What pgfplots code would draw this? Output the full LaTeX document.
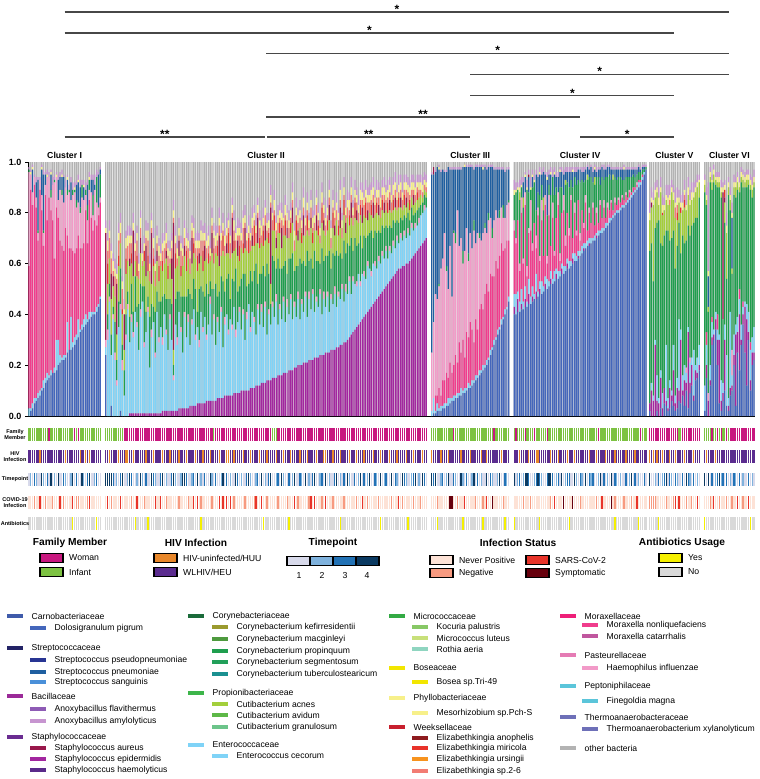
\documentclass[border=0pt]{standalone}
\usepackage{fontspec}
\setmainfont{Liberation Sans}
\usepackage{pgfplots}
\usepackage{pgfplotstable}
\pgfplotsset{compat=1.18}

% taxa shown in the bars
\definecolor{cDol}{HTML}{4466BB}
\definecolor{cSep}{HTML}{A2269F}
\definecolor{cEnt}{HTML}{7FD3F7}
\definecolor{cMor}{HTML}{F03C8C}
\definecolor{cHae}{HTML}{F29AC8}
\definecolor{cCor}{HTML}{1F9E4E}
\definecolor{cCut}{HTML}{A3CF3B}
\definecolor{cSpn}{HTML}{1F5FA0}
\definecolor{cSau}{HTML}{99184B}
\definecolor{cEmi}{HTML}{E8332A}
\definecolor{cEsp}{HTML}{F27C73}
\definecolor{cMes}{HTML}{F7F08A}
\definecolor{cAam}{HTML}{C795D0}
\definecolor{cOth}{HTML}{B3B3B3}
% extra legend colours
\definecolor{cCarn}{HTML}{3F5BAA}
\definecolor{cStrF}{HTML}{232366}
\definecolor{cSps}{HTML}{283593}
\definecolor{cSsa}{HTML}{4A90D9}
\definecolor{cBacF}{HTML}{9B2A98}
\definecolor{cAfl}{HTML}{8E5BB5}
\definecolor{cStaF}{HTML}{6A2C91}
\definecolor{cSha}{HTML}{5A2A8A}
\definecolor{cCorF}{HTML}{1B6B3A}
\definecolor{cCke}{HTML}{9A9A2E}
\definecolor{cCma}{HTML}{4E9A3E}
\definecolor{cCse}{HTML}{22A05A}
\definecolor{cCtu}{HTML}{1A9090}
\definecolor{cProF}{HTML}{3DB54A}
\definecolor{cCav}{HTML}{5DB847}
\definecolor{cCgr}{HTML}{6CC48A}
\definecolor{cMicF}{HTML}{33AA44}
\definecolor{cKpa}{HTML}{88C866}
\definecolor{cMlu}{HTML}{C8E07A}
\definecolor{cRae}{HTML}{8FD5C0}
\definecolor{cBos}{HTML}{F2E600}
\definecolor{cWeeF}{HTML}{C8202E}
\definecolor{cEan}{HTML}{8E1B1F}
\definecolor{cEur}{HTML}{F7931E}
\definecolor{cMorF}{HTML}{EE1F78}
\definecolor{cMca}{HTML}{C0569E}
\definecolor{cPasF}{HTML}{E57BB4}
\definecolor{cPep}{HTML}{5BC5DA}
\definecolor{cThe}{HTML}{6E70B8}
% metadata strips
\definecolor{cWom}{HTML}{C8187F}
\definecolor{cInf}{HTML}{7DC242}
\definecolor{cHun}{HTML}{E8872A}
\definecolor{cHiv}{HTML}{5B2C8F}
\definecolor{cT1}{HTML}{D8DAEB}
\definecolor{cT2}{HTML}{7FB2DD}
\definecolor{cT3}{HTML}{2272B5}
\definecolor{cT4}{HTML}{0B3A62}
\definecolor{cCnv}{HTML}{FDE2D6}
\definecolor{cCng}{HTML}{F79A80}
\definecolor{cCsa}{HTML}{E8342A}
\definecolor{cCsy}{HTML}{67000D}
\definecolor{cAby}{HTML}{F5F000}
\definecolor{cAbn}{HTML}{D9D9D9}

% one row per sample (gap rows between clusters have T=0)
% D S E M H C A P R L F Y V = relative abundance in percent
\pgfplotstableread{
D S E M H C A P R L F Y V T fm hv tp cv ab
0 0 3 56 37 1 0 0 0 0 0 0 1 100 i h a n n
2 0 1 86 6 0 0 0 0 0 0 1 1 100 i h b n n
3 0 2 78 5 0 0 9 0 0 0 1 1 100 i h a n n
5 0 2 84 3 0 0 0 0 0 0 0 1 100 i h c g n
6 0 1 75 4 0 0 6 0 0 0 0 2 100 i h b n n
7 0 2 60 3 1 0 20 0 0 0 0 1 100 i h a n n
8 0 2 79 4 0 0 0 0 0 0 0 1 100 i u a s n
10 0 1 70 6 0 0 10 0 0 0 1 1 100 i h d n n
11 0 3 53 5 1 0 22 0 0 0 0 2 100 i h b n n
13 0 2 72 4 0 0 4 0 0 0 0 1 100 i h a g n
14 0 3 60 17 0 0 0 0 0 0 1 2 100 i h c n n
15 0 1 70 8 0 0 0 0 0 0 0 2 100 w h a n n
16 0 2 63 5 3 0 6 0 0 0 1 1 100 i h d n n
17 0 0 60 14 0 0 0 0 0 0 0 3 100 i h a g n
17 0 2 43 30 1 0 0 0 0 0 0 2 100 i h b n n
18 0 12 52 12 0 0 0 0 0 0 1 1 100 i h a n n
20 0 10 48 7 0 0 8 0 0 0 0 2 100 i h d n n
21 0 3 45 20 0 0 5 0 0 0 0 2 100 i h a s n
22 0 1 44 20 2 0 5 0 0 0 1 2 100 i h a n n
22 0 2 41 19 0 0 10 0 0 0 0 1 100 i h c g n
23 0 1 50 16 0 0 0 0 0 0 0 3 100 i u b n n
25 0 12 34 16 2 0 4 0 0 0 1 1 100 i h a n n
26 0 0 40 22 1 0 0 0 0 0 0 2 100 i h a n n
26 0 13 27 19 0 0 7 0 0 0 0 2 100 i h b n n
27 0 2 36 22 2 0 0 0 0 0 0 3 100 i h d s y
28 0 3 33 24 1 0 0 0 0 0 1 2 100 w h a n n
30 0 2 34 16 3 0 6 0 0 0 0 2 100 i h c g n
31 0 7 33 13 0 0 8 0 0 0 1 2 100 w h a g n
33 0 1 32 14 2 0 8 0 0 0 0 3 100 i u a n n
34 0 2 30 20 5 0 0 0 0 0 0 2 100 i h d n n
35 0 3 30 17 0 0 5 0 0 0 1 2 100 i h b n n
36 0 4 41 6 2 0 0 0 0 0 0 3 100 i u a n n
37 0 1 30 9 6 0 8 0 0 0 0 2 100 i h c g n
38 0 3 44 4 4 0 0 0 0 0 1 2 100 i u d s n
39 0 2 37 10 0 0 5 0 0 0 0 2 100 i h a n n
40 0 1 32 6 8 0 6 0 0 0 0 2 100 i h a n n
40 0 1 36 12 0 0 2 0 0 0 0 4 100 i h b n n
41 0 2 32 9 10 0 0 0 0 0 0 3 100 i h c n y
43 0 1 35 3 1 0 12 0 0 0 0 1 100 i h a n n
46 0 1 37 2 9 0 2 0 0 0 0 1 100 i h a n n
0 0 0 0 0 0 0 0 0 0 0 0 0 0 z z z z z
0 0 0 0 0 0 0 0 0 0 0 0 0 0 z z z z z
24 0 3 0 3 0 0 0 42 0 0 2 3 100 i h d n n
0 0 30 0 4 6 12 0 0 8 5 4 3 100 i h d s n
0 0 45 0 2 5 10 0 0 0 8 3 4 100 i u d n n
4 0 20 0 0 8 14 0 10 0 6 3 3 100 i h d g n
0 0 38 0 2 3 8 0 4 0 2 4 3 100 i h c n n
0 0 22 0 3 12 10 0 0 0 8 3 4 100 i h a n n
0 0 12 0 2 8 10 0 20 0 2 2 4 100 i h b n n
0 0 35 0 0 10 14 0 0 4 6 3 4 100 i u a n n
2 0 40 0 2 14 10 0 0 0 4 4 4 100 i h c s n
0 0 18 0 4 6 12 0 0 2 8 3 2 100 i h d n n
0 0 8 0 0 10 8 0 14 0 0 2 4 100 w h a n n
0 0 30 0 2 8 16 0 0 6 4 4 3 100 w u a n n
0 0 42 0 2 5 12 0 0 0 6 4 4 100 w u b n n
0 1 28 0 0 10 20 0 3 0 6 3 4 100 w h d n n
0 1 36 0 3 12 8 0 0 4 4 3 3 100 w h c g n
0 1 30 0 2 8 14 0 18 0 0 3 4 100 w u a n n
0 1 40 0 0 14 6 0 0 0 4 3 4 100 w h a n y
0 1 34 0 2 6 12 0 0 8 6 3 3 100 w h b s n
0 1 25 0 0 18 10 0 0 0 3 3 4 100 w h a n n
0 1 38 0 3 10 12 0 6 0 4 4 3 100 w h d n n
0 1 44 0 0 6 8 0 0 0 2 3 4 100 w h b n n
0 1 26 0 2 22 10 0 0 4 0 3 3 100 w h a g n
0 1 32 0 0 8 14 0 12 0 3 3 4 100 w u c n n
0 1 40 0 2 4 10 0 0 6 6 4 3 100 w h a n y
0 1 18 0 0 20 14 0 0 0 4 3 4 100 w h a n n
0 1 30 0 3 10 8 0 20 0 2 3 3 100 w h d n n
0 1 36 0 0 6 16 0 0 3 4 4 4 100 w u c n n
0 1 22 0 2 16 10 0 0 0 6 3 3 100 w h b s n
0 1 40 0 0 8 12 0 4 0 3 3 4 100 w h a n n
0 1 28 0 2 14 8 0 0 6 4 4 3 100 w h a n n
0 1 34 0 0 10 14 0 0 0 2 3 4 100 w h c s n
0 2 26 0 3 16 10 0 0 4 4 3 4 100 w u d n n
0 2 38 0 0 8 12 0 0 0 6 3 3 100 w h a n n
0 2 30 0 2 12 16 0 3 0 3 4 4 100 w h b g n
0 2 24 0 0 20 8 0 0 5 4 3 3 100 w h a n n
0 2 36 0 2 6 14 0 0 0 2 3 4 100 w u a n n
0 2 28 0 0 14 10 0 8 0 4 3 3 100 w h c n n
0 2 12 0 2 4 6 0 50 0 2 3 4 100 w h d n n
0 2 34 0 0 10 12 0 0 6 4 3 4 100 w h b n n
0 2 26 0 3 18 10 0 0 0 3 4 3 100 w h a n n
0 3 38 0 0 8 14 0 6 0 2 3 4 100 w u a g n
0 3 30 0 2 12 8 0 0 4 6 3 3 100 w h b n n
0 3 22 0 0 22 12 0 0 0 4 3 4 100 w h d n n
0 3 36 0 2 6 16 0 4 0 3 4 3 100 w h d n n
0 3 28 0 0 16 10 0 0 8 2 3 4 100 w u c n n
0 3 34 0 3 10 12 0 0 0 4 3 3 100 w h a g n
0 4 24 0 0 20 8 0 0 0 6 3 4 100 w h a n n
0 4 32 0 2 8 14 0 10 0 3 3 3 100 w h b n n
0 4 38 0 0 12 10 0 0 4 2 4 4 100 w h c s n
0 4 26 0 2 18 12 0 0 0 4 3 3 100 w u a n n
0 5 30 0 0 6 16 0 0 6 3 3 4 100 w h d s n
0 5 22 0 3 20 10 0 4 0 2 3 3 100 w h a n n
0 5 36 0 0 10 12 0 0 0 6 4 4 100 w h b g y
0 5 28 0 2 14 8 0 0 8 4 3 3 100 w u a n n
0 5 34 0 0 8 14 0 6 0 2 3 4 100 w h c n n
0 6 24 0 2 20 10 0 0 0 4 3 3 100 w h a n n
0 6 30 0 0 12 12 0 0 4 3 4 4 100 w h a n n
0 6 38 0 3 6 8 0 0 0 2 3 3 100 w u d n n
0 6 26 0 0 18 14 0 8 0 3 3 4 100 w h b g n
0 6 32 0 2 10 10 0 0 6 4 3 3 100 i h a n n
0 6 22 0 0 24 12 0 0 0 3 4 4 100 w h c n n
0 7 30 0 2 8 16 0 0 4 2 3 3 100 w h a n n
0 7 26 0 0 16 10 0 12 0 4 3 4 100 w u a s n
0 7 34 0 2 12 8 0 0 0 6 3 3 100 w h b n n
0 7 20 0 0 26 12 0 0 6 2 3 4 100 w h d s n
0 8 28 0 3 10 14 0 0 0 4 4 3 100 w h a n n
0 8 32 0 0 14 10 0 4 0 3 3 4 100 w u c s n
0 8 24 0 2 22 8 0 0 8 2 3 3 100 w u a n n
0 8 30 0 0 8 16 0 0 0 6 3 4 100 w h b s n
0 8 26 0 2 18 10 0 14 0 2 3 3 100 w h a n n
0 9 34 0 0 10 12 0 0 4 4 4 4 100 w u a g n
0 9 22 0 3 24 8 0 0 0 3 3 3 100 w h d n n
0 9 28 0 0 12 14 0 6 0 2 3 4 100 w h c n n
0 9 32 0 2 8 10 0 0 6 4 3 3 100 w h a n n
0 10 24 0 0 20 12 0 0 0 3 3 4 100 w h b n n
0 10 30 0 2 14 8 0 0 4 6 4 3 100 w u a n n
0 10 20 0 0 26 10 0 8 0 2 3 4 100 w h a g n
0 10 28 0 3 10 14 0 0 0 4 3 3 100 w h c n n
0 10 34 0 0 8 12 0 0 6 2 3 4 100 w h d n n
0 11 22 0 2 22 8 0 0 0 4 3 3 100 w u b n n
0 11 30 0 0 12 14 0 4 0 3 4 4 100 w h a n n
0 11 26 0 2 18 10 0 0 8 2 3 3 100 w h a g n
0 12 20 0 0 28 8 0 0 0 4 3 4 100 w h b s n
0 12 30 0 2 8 16 0 10 0 2 3 3 100 w h c n n
0 12 24 0 0 20 10 0 0 4 4 3 4 100 w u a n n
0 13 28 0 3 12 12 0 0 0 3 4 3 100 w h d s n
0 13 22 0 0 24 8 0 0 6 2 3 4 100 w h a n y
0 13 30 0 2 10 14 0 6 0 4 3 3 100 w h b n n
0 14 18 0 0 28 10 0 0 0 3 3 4 100 w u a g n
0 14 26 0 2 14 12 0 0 4 2 3 3 100 w h c n n
0 14 22 0 0 8 8 0 30 0 2 3 4 100 w h d n n
0 15 28 0 2 18 10 0 0 0 4 3 3 100 i h a n n
0 15 24 0 0 22 12 0 0 6 2 4 4 100 i h a n n
0 15 30 0 3 10 8 0 4 0 3 3 3 100 i u b n n
0 16 20 0 0 26 10 0 0 0 4 3 4 100 w h c g n
0 16 26 0 2 14 14 0 0 4 2 3 3 100 w h a n n
0 16 22 0 0 20 8 0 8 0 3 3 4 100 w h d n n
0 17 28 0 2 12 12 0 0 0 4 3 3 100 w u b n n
0 17 20 0 0 24 10 0 0 6 2 4 4 100 w h a n n
0 17 26 0 3 10 14 0 4 0 3 3 3 100 w h a g n
0 18 22 0 0 22 8 0 0 0 4 3 4 100 w h c n y
0 18 28 0 2 14 10 0 0 4 2 3 3 100 w u a n n
0 18 20 0 0 26 12 0 6 0 3 3 4 100 w h b n n
0 19 24 0 2 12 8 0 0 0 4 4 3 100 w h d s n
0 19 20 0 0 20 12 0 0 6 2 3 4 100 w h a n n
0 20 26 0 3 10 10 0 4 0 3 3 3 100 w h a g n
0 20 18 0 0 24 12 0 0 0 4 3 4 100 w u c n n
0 20 24 0 2 14 8 0 0 4 2 3 3 100 w h b n n
0 21 20 0 0 20 10 0 8 0 3 4 4 100 w h a n n
0 21 26 0 2 10 12 0 0 0 4 3 3 100 w h d n n
0 21 18 0 0 26 8 0 0 6 2 3 4 100 w u a n n
0 22 24 0 3 12 10 0 0 0 3 3 3 100 w h b g n
0 22 20 0 0 20 12 0 4 0 4 3 4 100 w h a s n
0 22 26 0 2 8 10 0 0 4 2 4 3 100 w h c n n
0 23 18 0 0 24 8 0 0 0 3 3 4 100 w h d s n
0 23 22 0 2 14 12 0 6 0 4 3 3 100 w u a n n
0 23 20 0 0 18 10 0 0 4 2 3 4 100 w h a n n
0 24 24 0 2 10 8 0 0 0 3 3 3 100 w h b n n
0 24 16 0 0 26 10 0 0 6 2 4 4 100 w h c g n
0 24 22 0 3 12 12 0 4 0 3 3 3 100 w u a n n
0 25 18 0 0 20 8 0 0 0 4 3 4 100 w u d s n
0 25 22 0 2 14 10 0 0 4 2 3 3 100 w h a n n
0 25 16 0 0 24 12 0 6 0 3 3 4 100 w h b n n
0 26 20 0 2 10 8 0 0 0 4 4 3 100 w h a n n
0 26 18 0 0 20 10 0 0 6 2 3 4 100 w u a g n
0 26 22 0 3 12 8 0 4 0 3 3 3 100 w h c n n
0 27 16 0 0 22 12 0 0 0 4 3 4 100 w h d n n
0 27 20 0 2 14 8 0 0 4 2 3 3 100 w h a n n
0 28 18 0 0 18 10 0 8 0 3 4 4 100 w u b n y
0 28 22 0 2 10 8 0 0 0 4 3 3 100 w h a n n
0 29 16 0 0 24 10 0 0 6 2 3 4 100 w h c g n
0 29 20 0 3 12 8 0 4 0 3 3 3 100 w h a n n
0 30 18 0 0 20 10 0 0 0 4 3 4 100 w h d n n
0 31 22 0 2 12 8 0 0 4 2 4 3 100 w u b n n
0 32 16 0 0 22 8 0 6 0 3 3 4 100 w h a n n
0 33 20 0 2 10 10 0 0 0 4 3 3 100 w h a n n
0 34 18 0 0 18 8 0 0 6 2 3 4 100 w h c n n
0 35 16 0 2 14 10 0 4 0 3 3 3 100 w u a g n
0 36 20 0 0 12 8 0 0 0 4 3 4 100 w h b n n
0 37 14 0 2 18 8 0 0 4 2 4 3 100 w h d n n
0 38 18 0 0 10 10 0 6 0 3 3 4 100 w h a s n
0 39 16 0 2 14 8 0 0 0 4 3 3 100 w u c n n
0 40 14 0 0 16 8 0 0 6 2 3 4 100 w h a n n
0 41 18 0 2 10 6 0 4 0 3 3 3 100 w h b g n
0 42 16 0 0 14 8 0 0 0 4 3 4 100 w h d n n
0 43 12 0 2 16 6 0 0 4 2 4 3 100 w h a n n
0 44 16 0 0 10 8 0 6 0 3 3 4 100 w u a n n
0 45 14 0 2 12 6 0 0 0 4 3 3 100 w h c n n
0 46 12 0 0 14 8 0 0 4 2 3 4 100 w h b n n
0 47 14 0 2 10 6 0 4 0 3 3 3 100 w h a g n
0 48 12 0 0 12 6 0 0 0 4 4 4 100 w u d n y
0 49 14 0 2 10 6 0 0 4 2 3 3 100 w h a n n
0 50 12 0 0 12 6 0 4 0 3 3 4 100 w h b n n
0 51 14 0 2 8 6 0 0 0 4 3 3 100 w h c n n
0 52 10 0 0 12 6 0 0 4 2 3 4 100 w h a n n
0 53 12 0 2 8 6 0 4 0 3 3 3 100 w u a n n
0 54 10 0 0 10 6 0 0 0 4 3 4 100 w h d g n
0 55 12 0 2 8 4 0 0 4 2 4 3 100 w h a n n
0 56 10 0 0 10 6 0 4 0 3 3 4 100 w h c n n
0 57 12 0 2 6 4 0 0 0 4 3 3 100 w u b n n
0 58 10 0 0 8 6 0 0 4 2 3 4 100 w h a s n
0 58 12 0 2 6 4 0 4 0 3 3 3 100 w h a n n
0 59 10 0 0 8 4 0 0 0 4 3 4 100 w h d g n
0 59 12 0 2 6 4 0 0 4 2 3 3 100 w h c n n
0 60 10 0 0 8 4 0 4 0 3 3 3 100 w u b n n
0 60 12 0 2 6 4 0 0 0 4 3 3 100 w h a n y
0 61 10 0 0 6 4 0 0 4 2 3 3 100 w h a n n
0 62 12 0 2 6 4 0 0 0 3 3 3 100 w h b n n
0 63 10 0 0 6 4 0 4 0 2 3 3 100 w u c g n
0 64 10 0 2 4 4 0 0 0 3 3 3 100 w h d n n
0 65 10 0 0 6 4 0 0 3 2 2 3 100 w h a n n
0 66 10 0 2 4 4 0 0 0 3 3 3 100 w h b n n
0 67 12 0 0 4 4 0 0 0 2 3 3 100 w h a g n
0 68 12 0 0 4 2 0 0 0 2 3 3 100 w u d n n
0 69 12 0 2 4 2 0 0 0 2 2 3 100 w h c n n
0 70 12 0 0 4 2 0 0 0 2 2 3 100 w h a n n
0 0 0 0 0 0 0 0 0 0 0 0 0 0 z z z z z
0 0 0 0 0 0 0 0 0 0 0 0 0 0 z z z z z
0 0 2 0 23 0 0 70 0 0 0 0 1 100 i u d n n
1 0 6 0 30 0 0 58 3 0 0 0 0 100 i h c n n
1 0 1 6 40 0 0 48 0 0 0 0 1 100 i h d n n
2 0 3 3 38 0 0 52 0 0 0 0 0 100 i h a g y
2 0 1 8 40 1 0 45 0 0 0 1 1 100 i h a n n
2 0 2 4 50 0 0 38 0 0 0 0 1 100 i u b n n
3 0 1 10 48 0 0 35 0 0 0 0 0 100 i h c n n
3 0 2 9 58 0 0 24 0 0 0 0 1 100 i h a n n
4 0 1 12 40 2 0 37 0 0 0 0 1 100 i h b n n
4 0 3 8 35 0 0 48 0 0 0 0 0 100 i u d n n
5 0 2 14 46 0 0 30 0 0 0 0 1 100 i h a y n
6 0 1 10 30 0 0 50 0 0 0 0 1 100 i h a y n
6 0 2 12 52 1 0 24 0 0 0 0 1 100 w h c n n
7 0 1 16 44 4 0 25 0 0 0 0 1 100 i h b n n
7 0 2 12 60 0 0 16 0 0 0 0 1 100 i h a g n
8 0 1 20 38 0 0 30 0 0 0 0 1 100 i h a n n
8 0 3 14 45 0 0 27 0 0 0 0 1 100 i u d n n
9 0 1 20 30 5 0 33 0 0 0 0 0 100 i h b n y
9 0 2 12 42 0 0 33 0 0 0 1 0 100 i h a s n
10 0 1 22 41 0 0 24 0 0 0 0 1 100 i h c n n
11 0 2 18 30 3 0 34 0 0 0 0 1 100 i h a n n
11 0 1 25 35 0 0 26 0 0 0 0 1 100 i u a n n
12 0 2 20 32 0 0 32 0 0 0 0 1 100 i h b n n
13 0 1 15 44 4 0 20 0 0 0 0 1 100 i h d n n
14 0 2 22 30 0 0 30 0 0 0 0 1 100 i h a g n
15 0 1 18 38 0 0 26 0 0 0 0 1 100 i h c n n
16 0 2 24 28 2 0 26 0 0 0 0 1 100 i h a n n
17 0 1 26 25 0 0 29 0 0 0 0 1 100 i u b n n
18 0 2 22 30 0 0 25 0 0 0 1 1 100 i h a g y
19 0 1 28 26 2 0 22 0 0 0 0 1 100 i h a n n
20 0 2 30 20 0 0 25 0 0 0 0 1 100 i u d s n
22 0 1 26 28 3 0 18 0 0 0 0 1 100 i h a n n
24 0 2 30 22 0 0 20 0 0 0 0 1 100 i h c n n
26 0 1 28 15 4 0 24 0 0 0 0 1 100 i h b y n
28 0 2 25 22 0 0 20 0 0 0 0 1 100 w h a n n
30 0 1 30 20 0 0 16 0 0 0 0 1 100 i h a n n
32 0 2 24 20 0 0 19 0 0 0 0 1 100 i h b n n
34 0 1 28 15 3 0 16 0 0 0 0 1 100 i h d n n
36 0 2 30 14 0 0 15 0 0 0 0 1 100 i u a n n
38 0 1 26 13 5 0 14 0 0 0 0 1 100 i h a g n
40 0 2 24 12 0 0 18 0 0 0 0 1 100 i h c n y
42 0 1 26 14 0 0 14 0 0 0 0 1 100 i h b n n
45 0 2 22 15 1 0 12 0 0 0 0 1 100 i h a n n
0 0 0 0 0 0 0 0 0 0 0 0 0 0 z z z z z
0 0 0 0 0 0 0 0 0 0 0 0 0 0 z z z z z
40 3 5 25 4 10 0 0 0 0 0 2 4 100 i h d n y
40 0 8 20 2 18 0 0 0 0 0 1 3 100 w h a n n
41 5 3 28 0 12 0 0 0 0 0 1 2 100 i h b n n
41 0 4 12 3 25 3 0 0 0 0 2 3 100 i u c n n
42 2 6 30 6 4 0 0 0 0 0 1 3 100 i h a n n
42 0 3 15 2 20 4 6 0 0 0 0 2 100 i h b g n
43 3 5 32 5 0 0 6 0 0 0 1 1 100 w h d n n
43 0 2 10 4 30 0 0 0 0 0 1 3 100 i h d n n
44 4 6 18 2 14 0 6 1 0 0 0 2 100 i u c n n
44 0 3 26 12 4 0 0 0 0 0 1 4 100 i h a g n
45 2 4 14 3 22 0 4 0 0 0 1 2 100 i h a n n
46 0 2 28 0 16 0 0 0 0 0 1 2 100 w h b n n
46 3 7 10 5 10 0 14 0 0 0 0 2 100 i u c n n
47 0 2 30 3 6 0 6 0 0 0 0 1 100 i u d n n
48 2 3 8 2 24 0 8 0 0 0 1 2 100 i h c n y
48 0 5 24 8 6 0 4 0 0 0 0 2 100 i h b n n
49 0 2 12 0 18 5 10 0 0 0 0 2 100 i h a n n
50 2 3 28 4 0 0 8 0 0 0 0 1 100 i h a n n
50 0 4 6 3 16 0 14 0 0 0 1 2 100 w h c n n
51 0 2 26 8 4 0 4 0 0 0 0 2 100 i h d n n
52 2 3 10 0 20 0 8 0 0 0 1 2 100 i u d g n
52 0 2 24 6 10 0 0 0 0 0 0 3 100 i h c n n
53 0 4 6 2 22 0 8 0 0 0 1 2 100 i h a s n
54 2 2 20 0 12 0 4 0 0 0 0 2 100 i h b n n
54 0 3 26 5 0 0 6 0 0 0 0 2 100 i u c n n
55 0 2 4 3 26 0 6 0 0 0 1 1 100 i h a n n
56 2 2 20 0 10 0 6 0 0 0 0 2 100 i h d n n
56 0 3 22 6 0 0 8 0 0 0 0 2 100 i h a y n
57 0 2 8 4 20 2 3 0 0 0 0 2 100 i h b n n
58 2 2 18 0 12 0 4 0 0 0 0 2 100 i u c n n
58 0 3 10 3 16 0 6 0 0 0 0 2 100 i h c n y
59 0 2 24 2 6 0 3 0 0 0 0 2 100 i h a n n
60 2 2 6 0 20 0 6 0 0 0 1 1 100 i h a y n
61 0 3 16 4 10 0 2 0 0 0 0 2 100 i u d n n
61 0 2 8 2 18 0 5 0 0 0 0 2 100 i h b n n
62 1 2 20 0 8 0 4 0 0 0 0 1 100 i h a n n
63 0 2 4 3 20 0 5 0 0 0 0 1 100 i h c g n
64 0 3 14 0 12 0 3 0 0 0 0 2 100 i h b n n
65 1 2 6 2 16 0 4 0 0 0 0 2 100 i h a n n
66 0 2 16 3 6 0 4 0 0 0 0 1 100 i h d n n
67 0 2 4 0 20 2 3 0 0 0 0 1 100 i h a n n
67 1 2 10 2 12 0 3 0 0 0 0 1 100 i u c n n
68 0 2 6 0 18 0 4 0 0 0 0 1 100 i h b n n
69 0 1 12 2 8 0 4 0 0 0 0 2 100 i h c n n
69 0 2 4 0 16 3 3 0 0 0 1 1 100 i h a n n
70 1 1 8 2 12 0 2 0 0 0 0 2 100 i u a g n
71 0 2 3 0 18 0 3 0 0 0 0 1 100 w h b n n
72 0 1 10 2 6 0 6 0 0 0 0 1 100 i h d n n
72 0 2 4 0 16 0 4 0 0 0 0 1 100 i h a s n
73 0 1 8 3 8 0 4 0 0 0 0 2 100 i h c n n
74 0 2 2 0 16 0 3 0 0 0 0 1 100 i u a n n
75 0 1 6 2 10 0 4 0 0 0 0 1 100 i h b n n
76 0 2 3 0 14 0 3 0 0 0 0 1 100 i h a n n
77 0 1 6 1 8 0 4 0 0 0 0 1 100 i h d y n
78 0 1 2 0 12 2 2 0 0 0 0 1 100 i h a n n
79 0 1 4 2 8 0 3 0 0 0 0 1 100 i u c g y
80 0 1 2 0 10 0 4 0 0 0 0 1 100 i h b n n
80 0 1 4 1 8 0 3 0 0 0 0 1 100 i h a n n
81 0 1 2 0 10 0 3 0 0 0 0 1 100 i h b n n
82 0 1 3 1 6 0 4 0 0 0 0 1 100 i h a n n
82 0 1 2 0 8 0 4 0 0 0 1 1 100 i h a g n
83 0 1 3 1 6 0 3 0 0 0 0 1 100 i u c n n
84 0 1 1 0 8 0 3 0 0 0 0 1 100 i h a n n
85 0 1 2 1 5 0 3 0 0 0 0 1 100 i h b n n
86 0 1 1 0 6 0 3 0 0 0 0 1 100 i h d g n
87 0 1 2 0 5 0 2 0 0 0 0 1 100 i h a n n
88 0 1 1 0 4 0 3 0 0 0 0 1 100 i u c n n
89 0 1 1 1 3 0 2 0 0 0 0 1 100 i h a s n
90 0 2 1 0 3 0 2 0 0 0 0 1 100 i h b n y
91 0 1 1 0 3 0 1 0 0 0 0 1 100 w h a n n
93 0 1 1 0 2 0 1 0 0 0 0 1 100 i h a n n
95 0 1 0 0 1 0 1 0 0 0 0 1 100 i h c n n
97 0 0 0 0 1 0 0 0 0 0 0 1 100 i h a n n
0 0 0 0 0 0 0 0 0 0 0 0 0 0 z z z z z
2 3 0 0 0 60 12 0 0 0 0 3 5 100 w u d g n
0 10 3 0 0 55 14 0 2 0 0 2 4 100 w h a g n
0 6 2 0 0 45 30 0 0 0 0 2 3 100 w u a g n
0 28 2 0 0 44 12 0 0 0 0 3 3 100 w h b g n
2 4 10 0 0 60 12 0 0 0 0 2 3 100 w u a n n
0 5 2 0 0 70 6 0 0 0 0 3 4 100 w h c n y
3 12 3 0 0 50 20 0 0 0 0 2 4 100 w h a n n
0 3 6 0 0 58 12 0 0 1 0 3 4 100 w u b n n
5 6 0 0 0 60 10 0 0 0 0 2 3 100 w h c n n
4 2 22 0 0 45 12 0 0 0 0 2 4 100 w h d g n
2 1 4 0 0 66 10 0 0 0 0 3 5 100 w h a n n
3 8 3 0 0 55 14 0 0 0 2 2 4 100 w u c n n
6 2 2 0 0 60 18 0 0 0 0 2 3 100 w h b n n
4 14 10 0 0 45 12 0 0 0 0 3 3 100 w h a g n
2 3 3 0 0 50 20 0 0 0 4 2 5 100 w u c s n
3 8 4 0 0 52 10 0 0 3 3 3 4 100 w h b n n
6 4 28 0 0 38 8 0 0 0 0 2 3 100 i h a s n
5 25 4 0 0 30 16 0 0 2 0 2 3 100 i h a n n
8 2 6 0 0 55 10 0 0 0 0 3 4 100 w h c n n
4 10 6 0 0 48 14 0 0 3 2 2 4 100 w u a n n
10 3 4 0 2 50 12 0 0 0 0 2 5 100 w h d g n
3 30 2 0 0 40 12 0 0 0 0 3 4 100 w h c n n
9 4 8 0 2 48 12 0 0 0 0 2 4 100 w h b n n
12 8 3 0 0 52 10 0 0 0 0 3 4 100 w h a g n
6 2 18 0 0 50 10 0 0 0 0 2 4 100 w u c n n
14 4 2 0 0 58 10 0 0 0 0 2 3 100 w h a n n
15 2 6 0 0 55 12 0 0 0 0 2 3 100 w h b s n
18 2 8 0 0 58 6 0 0 0 0 1 2 100 w h a n n
0 0 0 0 0 0 0 0 0 0 0 0 0 0 z z z z z
0 0 0 0 0 0 0 0 0 0 0 0 0 0 z z z z z
2 0 10 0 0 76 3 0 0 0 0 2 2 100 i h d n y
15 5 8 5 0 50 2 0 0 0 0 2 3 100 i u a n n
0 6 0 0 3 32 2 12 0 0 0 2 35 100 i h d n n
12 2 6 0 0 72 2 0 0 0 0 2 2 100 i h a g n
28 3 6 2 0 50 3 0 0 0 0 1 2 100 w h c n n
30 2 2 0 0 58 3 0 0 0 0 2 2 100 i h a s n
34 4 3 0 0 50 2 0 0 0 0 1 2 100 i u b n n
20 10 4 6 0 50 2 0 0 0 0 2 2 100 w h c n n
5 25 2 0 0 58 2 0 0 0 0 2 2 100 i h d g n
2 4 8 0 0 72 2 0 0 0 0 2 3 100 w h b n n
6 3 4 0 0 25 0 0 50 0 0 2 2 100 i h c n n
10 20 6 0 0 40 8 0 2 3 0 2 2 100 i h a n n
4 0 20 0 0 30 18 0 0 0 0 3 5 100 w h c g n
2 2 3 0 0 80 3 0 0 0 0 2 2 100 i h a n n
8 3 30 0 0 40 4 0 0 0 0 2 3 100 w h b n n
10 2 4 0 10 30 2 20 0 0 0 2 4 100 w h a g n
20 4 8 0 0 55 3 0 0 0 0 2 3 100 w h c n n
4 28 4 0 0 50 4 0 0 0 0 2 2 100 w h b n n
25 8 6 0 0 50 3 0 0 0 0 2 2 100 w h a s n
18 22 6 4 0 38 2 0 0 0 0 2 2 100 w h c n n
28 2 6 0 0 56 2 0 0 0 0 2 2 100 w h a n n
36 4 3 2 0 45 3 0 0 0 0 2 2 100 w h b g n
25 18 2 0 0 45 2 0 0 0 0 2 2 100 w h a n n
12 26 6 0 0 46 3 0 0 0 0 2 2 100 w h a n n
30 3 8 0 0 50 2 0 0 0 0 2 2 100 w h c s n
10 4 12 3 0 60 2 0 0 0 0 2 2 100 w h a n y
20 5 6 0 0 55 3 0 0 0 0 2 3 100 w h b n n
22 3 10 0 0 55 2 0 0 0 0 2 3 100 w h a n n
}\samples

% one metadata cell of a strip
\pgfdeclareplotmark{cell}{%
  \pgfpathrectangle{\pgfpoint{-0.62pt}{-6.5pt}}{\pgfpoint{1.24pt}{13pt}}%
  \pgfusepathqfill}

\newcommand{\lgfont}{\fontsize{8.6}{10}\selectfont}
\newcommand{\itfont}{\fontsize{8.7}{10}\selectfont}
\newcommand{\ttlfont}{\bfseries\fontsize{10.2}{12}\selectfont}
\newcommand{\stripfont}{\bfseries\fontsize{5.5}{5.9}\selectfont}
% taxon legend entry: x, y, colour, name
\newcommand{\sw}[4]{%
  \fill[#3] (#1pt,-#2pt-2pt) rectangle ++(16pt,4pt);
  \node[anchor=west,inner sep=0pt,font=\lgfont] at (#1pt+24.5pt,-#2pt) {#4};}
% metadata legend entry: x, y, colour, name
\newcommand{\bx}[4]{%
  \filldraw[fill=#3,draw=black,line width=1.1pt] (#1pt,-#2pt-4.5pt) rectangle ++(23pt,9pt);
  \node[anchor=west,inner sep=0pt,font=\itfont] at (#1pt+29pt,-#2pt) {#4};}

\pgfplotsset{
  samplegrid/.style={scale only axis, width=727pt, xmin=-0.5, xmax=396.5},
  strip/.style={scatter, only marks, scatter src=explicit symbolic},
}

\begin{document}
\begin{tikzpicture}
\useasboundingbox (0pt,-779pt) rectangle (760pt,0pt);

% "other bacteria" background, cluster names and significance brackets
\begin{axis}[samplegrid, at={(28pt,-416pt)}, anchor=south west, height=254pt,
  ymin=0, ymax=100, hide axis, clip=false]
  \addplot[ybar, bar width=0.68, bar shift=0pt, fill=cOth, draw=none]
    table[x expr=\coordindex, y=T]{\samples};
  \begin{scope}[every node/.style={font=\bfseries\fontsize{8.7}{10}\selectfont, inner sep=0pt}]
    \node at (axis cs:19.5,102.8) {Cluster I};
    \node at (axis cs:129.5,102.8) {Cluster II};
    \node at (axis cs:241,102.8) {Cluster III};
    \node at (axis cs:301,102.8) {Cluster IV};
    \node at (axis cs:352.5,102.8) {Cluster V};
    \node at (axis cs:382.5,102.8) {Cluster VI};
  \end{scope}
  \begin{scope}[line width=1.4pt, draw=black!72,
      every node/.style={font=\bfseries\fontsize{12}{12}\selectfont, inner sep=0pt, anchor=base, yshift=-1.5pt}]
    \draw (axis cs:19.5,159.06) -- node {*} (axis cs:382.5,159.06);
    \draw (axis cs:19.5,150.79) -- node {*} (axis cs:352.5,150.79);
    \draw (axis cs:129.5,142.72) -- node {*} (axis cs:382.5,142.72);
    \draw (axis cs:241,134.45) -- node {*} (axis cs:382.5,134.45);
    \draw (axis cs:241,126.18) -- node {*} (axis cs:352.5,126.18);
    \draw (axis cs:129.5,117.72) -- node {**} (axis cs:301,117.72);
    \draw (axis cs:19.5,109.84) -- node {**} (axis cs:128.9,109.84);
    \draw (axis cs:130.1,109.84) -- node {**} (axis cs:241,109.84);
    \draw (axis cs:301,109.84) -- node {*} (axis cs:352.5,109.84);
  \end{scope}
\end{axis}

% stacked relative abundances
\begin{axis}[samplegrid, at={(28pt,-416pt)}, anchor=south west, height=254pt,
  ymin=0, ymax=100, ybar stacked, bar width=0.68,
  axis lines*=left, axis line style={black, line width=0.9pt},
  xtick=\empty, ytick={0,20,40,60,80,100},
  yticklabels={\textbf{0.0},\textbf{0.2},\textbf{0.4},\textbf{0.6},\textbf{0.8},\textbf{1.0}},
  yticklabel style={font=\fontsize{9}{10}\selectfont},
  tick align=outside, major tick length=3pt, tick style={black, line width=0.9pt}]
  \addplot[fill=cDol, draw=none] table[x expr=\coordindex, y=D]{\samples};
  \addplot[fill=cSep, draw=none] table[x expr=\coordindex, y=S]{\samples};
  \addplot[fill=cEnt, draw=none] table[x expr=\coordindex, y=E]{\samples};
  \addplot[fill=cMor, draw=none] table[x expr=\coordindex, y=M]{\samples};
  \addplot[fill=cHae, draw=none] table[x expr=\coordindex, y=H]{\samples};
  \addplot[fill=cCor, draw=none] table[x expr=\coordindex, y=C]{\samples};
  \addplot[fill=cCut, draw=none] table[x expr=\coordindex, y=A]{\samples};
  \addplot[fill=cSpn, draw=none] table[x expr=\coordindex, y=P]{\samples};
  \addplot[fill=cSau, draw=none] table[x expr=\coordindex, y=R]{\samples};
  \addplot[fill=cEmi, draw=none] table[x expr=\coordindex, y=L]{\samples};
  \addplot[fill=cEsp, draw=none] table[x expr=\coordindex, y=F]{\samples};
  \addplot[fill=cMes, draw=none] table[x expr=\coordindex, y=Y]{\samples};
  \addplot[fill=cAam, draw=none] table[x expr=\coordindex, y=V]{\samples};
\end{axis}

% metadata strips
\begin{axis}[samplegrid, at={(28pt,-531pt)}, anchor=south west, height=115pt,
  ymin=-531, ymax=-416, hide axis, clip=false]
  \addplot[strip, scatter/classes={w={mark=cell,cWom}, i={mark=cell,cInf}, z={mark=cell,white}}]
    table[x expr=\coordindex, y expr=-434.5, meta=fm]{\samples};
  \addplot[strip, scatter/classes={u={mark=cell,cHun}, h={mark=cell,cHiv}, z={mark=cell,white}}]
    table[x expr=\coordindex, y expr=-456.5, meta=hv]{\samples};
  \addplot[strip, scatter/classes={a={mark=cell,cT1}, b={mark=cell,cT2}, c={mark=cell,cT3}, d={mark=cell,cT4}, z={mark=cell,white}}]
    table[x expr=\coordindex, y expr=-479.5, meta=tp]{\samples};
  \addplot[strip, scatter/classes={n={mark=cell,cCnv}, g={mark=cell,cCng}, s={mark=cell,cCsa}, y={mark=cell,cCsy}, z={mark=cell,white}}]
    table[x expr=\coordindex, y expr=-502.5, meta=cv]{\samples};
  \addplot[strip, scatter/classes={y={mark=cell,cAby}, n={mark=cell,cAbn}, z={mark=cell,white}}]
    table[x expr=\coordindex, y expr=-523.5, meta=ab]{\samples};
\end{axis}

% strip names
\begin{scope}[every node/.style={font=\stripfont, align=center, inner sep=0pt}]
  \node at (15pt,-434.5pt) {Family\\Member};
  \node at (15pt,-456.5pt) {HIV\\Infection};
  \node at (15pt,-479.5pt) {Timepoint};
  \node at (15pt,-502.5pt) {COVID-19\\Infection};
  \node at (15pt,-523.5pt) {Antibiotics};
\end{scope}

% metadata legends
\node[font=\ttlfont] at (70pt,-543pt) {Family Member};
\bx{40}{558}{cWom}{Woman}
\bx{40}{572}{cInf}{Infant}
\node[font=\ttlfont] at (196pt,-543pt) {HIV Infection};
\bx{154}{558}{cHun}{HIV-uninfected/HUU}
\bx{154}{572}{cHiv}{WLHIV/HEU}
\node[font=\ttlfont] at (333pt,-543pt) {Timepoint};
\begin{scope}[line width=1.1pt]
  \filldraw[fill=cT1] (287pt,-565.5pt) rectangle (310pt,-556.5pt);
  \filldraw[fill=cT2] (310pt,-565.5pt) rectangle (333pt,-556.5pt);
  \filldraw[fill=cT3] (333pt,-565.5pt) rectangle (356pt,-556.5pt);
  \filldraw[fill=cT4] (356pt,-565.5pt) rectangle (379pt,-556.5pt);
\end{scope}
\node[font=\itfont] at (299pt,-575pt) {1};
\node[font=\itfont] at (322pt,-575pt) {2};
\node[font=\itfont] at (345pt,-575pt) {3};
\node[font=\itfont] at (367pt,-575pt) {4};
\node[font=\ttlfont] at (518pt,-543pt) {Infection Status};
\bx{430}{560}{cCnv}{Never Positive}
\bx{430}{573}{cCng}{Negative}
\bx{526}{560}{cCsa}{SARS-CoV-2}
\bx{526}{573}{cCsy}{Symptomatic}
\node[font=\ttlfont] at (682pt,-543pt) {Antibiotics Usage};
\bx{659}{558}{cAby}{Yes}
\bx{659}{572}{cAbn}{No}

% taxa legend
\sw{7}{616}{cCarn}{Carnobacteriaceae}
\sw{30}{628}{cDol}{Dolosigranulum pigrum}
\sw{7}{648}{cStrF}{Streptococcaceae}
\sw{30}{660}{cSps}{Streptococcus pseudopneumoniae}
\sw{30}{672}{cSpn}{Streptococcus pneumoniae}
\sw{30}{682}{cSsa}{Streptococcus sanguinis}
\sw{7}{696}{cBacF}{Bacillaceae}
\sw{30}{709}{cAfl}{Anoxybacillus flavithermus}
\sw{30}{721}{cAam}{Anoxybacillus amylolyticus}
\sw{7}{737}{cStaF}{Staphylococcaceae}
\sw{30}{748}{cSau}{Staphylococcus aureus}
\sw{30}{759}{cSep}{Staphylococcus epidermidis}
\sw{30}{770}{cSha}{Staphylococcus haemolyticus}

\sw{188}{616}{cCorF}{Corynebacteriaceae}
\sw{212}{627}{cCke}{Corynebacterium kefirresidentii}
\sw{212}{639}{cCma}{Corynebacterium macginleyi}
\sw{212}{651}{cCor}{Corynebacterium propinquum}
\sw{212}{662}{cCse}{Corynebacterium segmentosum}
\sw{212}{674}{cCtu}{Corynebacterium tuberculostearicum}
\sw{188}{693}{cProF}{Propionibacteriaceae}
\sw{212}{704}{cCut}{Cutibacterium acnes}
\sw{212}{715}{cCav}{Cutibacterium avidum}
\sw{212}{727}{cCgr}{Cutibacterium granulosum}
\sw{188}{745}{cEnt}{Enterococcaceae}
\sw{212}{756}{cEnt}{Enterococcus cecorum}

\sw{389}{616}{cMicF}{Micrococcaceae}
\sw{412}{627}{cKpa}{Kocuria palustris}
\sw{412}{638}{cMlu}{Micrococcus luteus}
\sw{412}{649}{cRae}{Rothia aeria}
\sw{389}{668}{cBos}{Boseaceae}
\sw{412}{682}{cBos}{Bosea sp.Tri-49}
\sw{389}{698}{cMes}{Phyllobacteriaceae}
\sw{412}{713}{cMes}{Mesorhizobium sp.Pch-S}
\sw{389}{727}{cWeeF}{Weeksellaceae}
\sw{412}{738}{cEan}{Elizabethkingia anophelis}
\sw{412}{748}{cEmi}{Elizabethkingia miricola}
\sw{412}{759}{cEur}{Elizabethkingia ursingii}
\sw{412}{771}{cEsp}{Elizabethkingia sp.2-6}

\sw{560}{616}{cMorF}{Moraxellaceae}
\sw{582}{625}{cMor}{Moraxella nonliquefaciens}
\sw{582}{636}{cMca}{Moraxella catarrhalis}
\sw{560}{655}{cPasF}{Pasteurellaceae}
\sw{582}{668}{cHae}{Haemophilus influenzae}
\sw{560}{686}{cPep}{Peptoniphilaceae}
\sw{582}{701}{cPep}{Finegoldia magna}
\sw{560}{717}{cThe}{Thermoanaerobacteraceae}
\sw{582}{729}{cThe}{Thermoanaerobacterium xylanolyticum}
\sw{560}{748}{cOth}{other bacteria}
\end{tikzpicture}
\end{document}
